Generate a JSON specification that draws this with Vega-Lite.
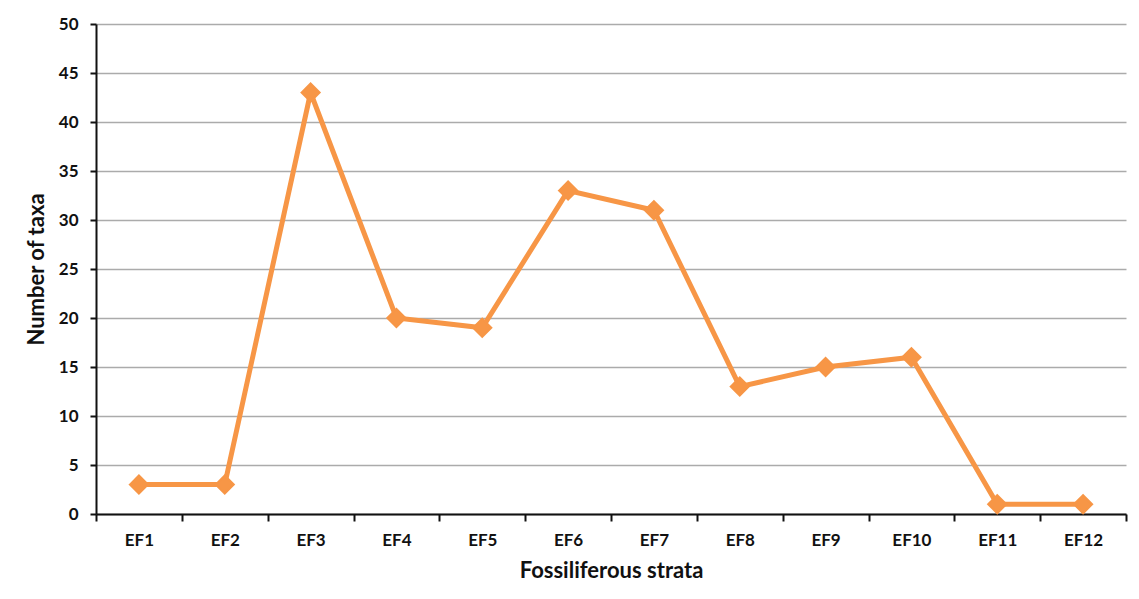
{
  "$schema": "https://vega.github.io/schema/vega-lite/v6.json",
  "autosize": {"type": "none"},
  "padding": {"left": 96, "top": 24, "right": 13, "bottom": 85},
  "width": 1030,
  "height": 490,
  "background": "white",
  "config": {
    "view": {"stroke": null},
    "font": "Lato",
    "axis": {
      "labelFont": "Lato",
      "labelFontWeight": "bold",
      "labelFontSize": 17,
      "labelColor": "#111111",
      "titleFont": "Lato",
      "titleFontWeight": "bold",
      "titleFontSize": 22,
      "titleColor": "#111111",
      "domainColor": "#111111",
      "domainWidth": 2,
      "tickColor": "#111111",
      "tickWidth": 2
    }
  },
  "data": {
    "values": [
      {"stratum": "EF1", "taxa": 3},
      {"stratum": "EF2", "taxa": 3},
      {"stratum": "EF3", "taxa": 43},
      {"stratum": "EF4", "taxa": 20},
      {"stratum": "EF5", "taxa": 19},
      {"stratum": "EF6", "taxa": 33},
      {"stratum": "EF7", "taxa": 31},
      {"stratum": "EF8", "taxa": 13},
      {"stratum": "EF9", "taxa": 15},
      {"stratum": "EF10", "taxa": 16},
      {"stratum": "EF11", "taxa": 1},
      {"stratum": "EF12", "taxa": 1}
    ]
  },
  "encoding": {
    "x": {
      "field": "stratum",
      "type": "ordinal",
      "sort": null,
      "scale": {"type": "band", "paddingInner": 0, "paddingOuter": 0},
      "axis": {
        "title": "Fossiliferous strata",
        "labelAngle": 0,
        "tickBand": "extent",
        "tickSize": 7,
        "labelPadding": 11,
        "titlePadding": 12,
        "grid": false
      }
    },
    "y": {
      "field": "taxa",
      "type": "quantitative",
      "scale": {"domain": [0, 50], "nice": false},
      "axis": {
        "title": "Number of taxa",
        "values": [0, 5, 10, 15, 20, 25, 30, 35, 40, 45, 50],
        "tickSize": 6,
        "labelPadding": 12,
        "titlePadding": 10,
        "grid": true,
        "gridColor": "#ababab",
        "gridWidth": 1.5
      }
    }
  },
  "layer": [
    {
      "mark": {"type": "line", "color": "#F79646", "strokeWidth": 5}
    },
    {
      "mark": {"type": "point", "shape": "diamond", "filled": true, "size": 330, "color": "#F79646", "stroke": "#F79646", "strokeWidth": 2, "opacity": 1}
    }
  ]
}
